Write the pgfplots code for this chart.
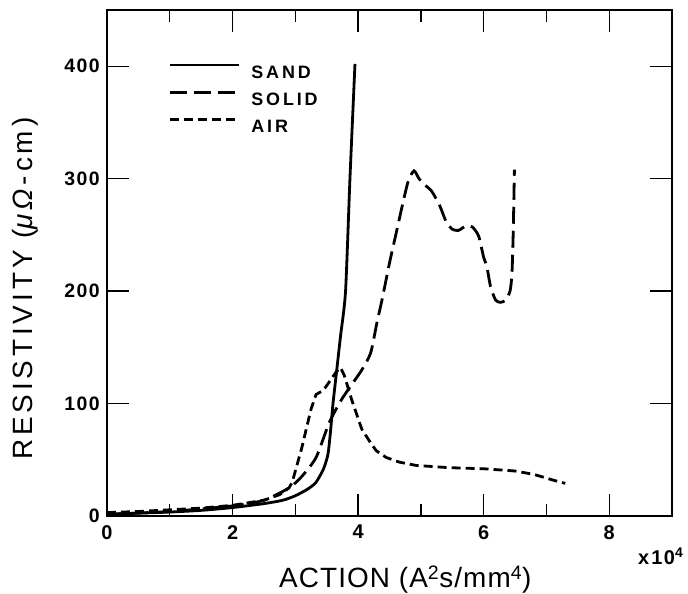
\documentclass[border=0pt]{standalone}
\usepackage{pgfplots}
\pgfplotsset{compat=1.18}
\usepackage{fontspec}
\setmainfont{Liberation Sans}
\newfontfamily\tickfont[LetterSpace=8]{Liberation Sans Bold}
\newfontfamily\legfont[LetterSpace=16]{Liberation Sans Bold}
\newfontfamily\xlabfont[LetterSpace=4]{Liberation Sans}
\newfontfamily\ylabfont[LetterSpace=14]{Liberation Sans}
\begin{document}
\begin{tikzpicture}
\begin{axis}[name=ax,
  width=565bp, height=506bp, scale only axis,
  xmin=0, xmax=9, ymin=0, ymax=450,
  xtick={0,2,4,6,8}, minor xtick={1,3,5,7,9},
  ytick={0,100,200,300,400},
  tick align=inside, major tick length=22bp, minor tick length=12bp,
  axis line style={line width=1.8bp},
  every tick/.style={line width=1.3bp, black},
  /pgf/number format/assume math mode=true,
  xticklabel style={font=\tickfont\fontsize{20}{20}\selectfont, anchor=north, inner sep=0pt, yshift=-9bp},
  yticklabel style={font=\tickfont\fontsize{19.5}{19.5}\selectfont, anchor=east, inner sep=0pt, xshift=-7bp},
  xlabel={ACTION (A\textsuperscript{2}s/mm\textsuperscript{4})},
  ylabel={RESISTIVITY (\textit{μΩ}-cm)},
  xlabel style={font=\xlabfont\fontsize{28}{28}\selectfont, at={(rel axis cs:0.528,-0.1423)}, anchor=base},
  ylabel style={font=\ylabfont\fontsize{28}{28}\selectfont, at={(rel axis cs:-0.131,0.449)}, anchor=base},
  legend style={draw=none, fill=none, at={(rel axis cs:0.1086,0.8943)}, anchor=north west,
    inner sep=0pt, row sep=13bp, font=\legfont\fontsize{18}{18}\selectfont,
    nodes={inner sep=0pt, text height=13bp, text depth=0bp},
    /tikz/every odd column/.append style={column sep=11bp}},
  legend image code/.code={\draw[#1] (0bp,6.5bp) -- (69bp,6.5bp);},
  legend cell align=left,
]
\addplot[black, line width=2.8bp, smooth, tension=0.4] coordinates {
(0,1.5) (0.5,2.5) (1,3.5) (1.5,5) (2,7.5) (2.5,11) (2.8,14) (3.0,18) (3.2,24)
(3.33,30) (3.45,42) (3.52,55) (3.56,75) (3.6,100) (3.65,125) (3.72,160) (3.8,200)
(3.87,300) (3.95,402)};
\addlegendentry{SAND}
\addplot[black, line width=2.8bp, dash pattern=on 17bp off 7bp, smooth, tension=0.4] coordinates {
(0,1.5) (1,4) (2,9) (2.5,14) (2.9,25) (3.1,35) (3.33,52) (3.54,83) (3.73,103)
(3.9,117) (4.06,130) (4.2,145) (4.3,172) (4.38,192) (4.5,225) (4.6,250) (4.72,280)
(4.8,298) (4.89,307) (4.97,300) (5.05,295) (5.17,289) (5.3,276) (5.4,262) (5.5,255)
(5.6,254) (5.72,258) (5.82,257) (5.92,249) (6.0,230) (6.05,222) (6.11,204) (6.19,192)
(6.27,190) (6.35,192) (6.42,200) (6.45,215) (6.47,250) (6.49,308)};
\addlegendentry{SOLID}
\addplot[black, line width=2.8bp, dash pattern=on 9bp off 5bp] coordinates {
(0,3) (0.5,4) (1,5.5) (1.5,7) (2,9.5) (2.5,14) (2.75,19) (2.9,25) (2.95,30) (3.1,60)
(3.25,95) (3.33,108) (3.45,112) (3.55,120) (3.65,128) (3.72,132) (3.78,125)
(3.9,103) (4.06,77) (4.2,65) (4.29,58) (4.45,52) (4.65,48) (4.92,45) (5.44,43)
(6.0,42) (6.5,40) (6.8,37) (7.1,32) (7.3,29)};
\addlegendentry{AIR}
\end{axis}
\node[anchor=base west, inner sep=0pt, font=\tickfont\fontsize{20}{20}\selectfont]
  at ([xshift=531bp,yshift=-49bp]ax.south west) {x\hspace{2bp}10\textsuperscript{4}};
\pgfresetboundingbox
\path ([xshift=-107bp,yshift=-78bp]ax.south west) rectangle ([xshift=16bp,yshift=10bp]ax.north east);
\end{tikzpicture}
\end{document}
